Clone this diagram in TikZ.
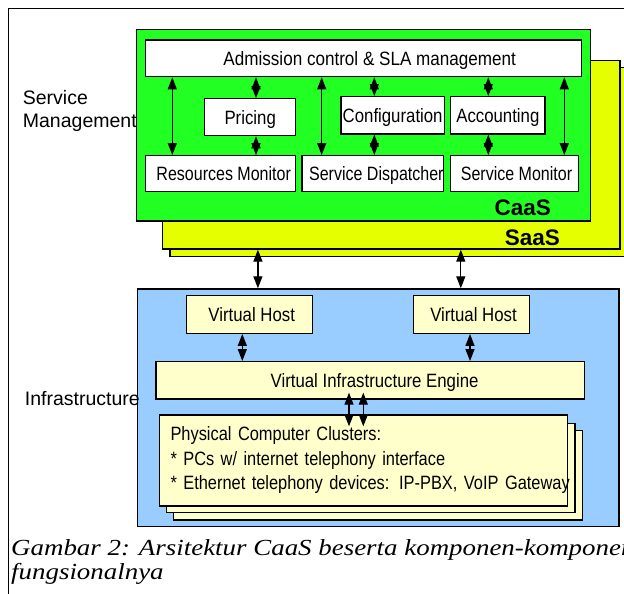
\documentclass[tikz,border=0pt]{standalone}
\usepackage{fontspec}
\setmainfont{Liberation Sans}
\newfontfamily\nfa[FakeStretch=0.83]{Liberation Sans}
\newfontfamily\nfb[FakeStretch=0.87]{Liberation Sans}
\newfontfamily\nfc[FakeStretch=0.885]{Liberation Sans}
\newfontfamily\nfd[FakeStretch=0.85]{Liberation Sans}
\newfontfamily\capfont[FakeStretch=1.17]{Liberation Serif}
\usetikzlibrary{arrows.meta}
\definecolor{caasgreen}{RGB}{34,255,34}
\definecolor{saasyellow}{RGB}{230,255,0}
\definecolor{infrablue}{RGB}{153,204,255}
\definecolor{paleyellow}{RGB}{255,255,204}
\begin{document}
\begin{tikzpicture}[x=1pt,y=-1pt,
  layer/.style={draw=black, line width=1.4pt, inner sep=0pt},
  box/.style={draw=black, line width=1.3pt, fill=white, inner sep=0pt,
    text height=13.8pt, text depth=0pt},
  ybox/.style={box, fill=paleyellow},
  fa/.style={font=\nfa\fontsize{19.3}{23}\selectfont},
  fb/.style={font=\nfb\fontsize{19.3}{23}\selectfont},
  side/.style={font=\fontsize{19.5}{24}\selectfont, align=left, inner sep=0pt},
  tag/.style={font=\bfseries\fontsize{22.5}{26}\selectfont, inner sep=0pt},
  dbl/.style={line width=1.3pt,
    {Triangle[length=12pt,width=9pt]}-{Triangle[length=12pt,width=9pt]}}
]
\useasboundingbox (0,0) rectangle (624,594);
\fill[white] (0,0) rectangle (624,594);
% outer frame
\draw[line width=0.8pt] (8.5,700) |- (700,8);

% service management layers
\node[layer, fill=saasyellow, minimum width=460pt, minimum height=189pt] (saasback) at (400,162.2) {};
\node[layer, fill=saasyellow, minimum width=457.3pt, minimum height=188.3pt] (saas) at (391.35,154.85) {};
\node[layer, fill=caasgreen, minimum width=453.6pt, minimum height=191.7pt] (caas) at (363.5,125.15) {};

\node[box, minimum width=436pt, minimum height=36.7pt, font=\nfc\fontsize{19.3}{23}\selectfont] (adm) at (363.7,58.35) {\hspace*{12pt}Admission control \& SLA management};
\node[box, fb, minimum width=91pt, minimum height=37pt] (pri) at (250.2,117.2) {Pricing};
\node[box, fb, minimum width=103.3pt, minimum height=37.3pt] (conf) at (392.65,115.35) {Configuration};
\node[box, fb, minimum width=94.3pt, minimum height=37.3pt] (acc) at (497.85,115.35) {Accounting};
\node[box, fa, minimum width=150pt, minimum height=36pt] (rm) at (220.7,173.7) {\hspace*{6pt}Resources Monitor};
\node[box, fa, minimum width=141.7pt, minimum height=36pt] (sd) at (372.85,173.7) {\hspace*{7pt}Service Dispatcher};
\node[box, fa, minimum width=127.6pt, minimum height=36pt] (sm) at (514.5,173.7) {\hspace*{4pt}Service Monitor};

\node[tag, anchor=base east] (caaslbl) at (551,215.3) {CaaS};
\node[tag, anchor=base east] (saaslbl) at (560,245) {SaaS};

% infrastructure
\node[layer, fill=infrablue, minimum width=481.5pt, minimum height=237.7pt] (infra) at (378.05,407.85) {};
\node[ybox, fb, minimum width=126pt, minimum height=37.6pt] (vh1) at (249.7,314.5) {\hspace*{4pt}Virtual Host};
\node[ybox, fb, minimum width=115.4pt, minimum height=37.6pt] (vh2) at (471.5,314.5) {\hspace*{4pt}Virtual Host};
\node[ybox, fb, minimum width=428.2pt, minimum height=37.3pt] (vie) at (370.1,380.35) {\hspace*{9pt}Virtual Infrastructure Engine};
\node[ybox, minimum width=409pt, minimum height=89.3pt] (cl3) at (377.8,475.35) {};
\node[ybox, minimum width=408.3pt, minimum height=89.4pt] (cl2) at (370.85,468) {};
\node[ybox, minimum width=408pt, minimum height=91pt, text height=, text depth=,
  font=\nfd\fontsize{19.3}{24.5}\selectfont, text width=386pt, align=left, inner xsep=11pt] (cl1) at (363.5,460.5)
  {Physical Computer Clusters:\\{}%
   * PCs w/ internet telephony interface\\{}%
   \mbox{* Ethernet telephony devices: IP-PBX, VoIP Gateway}};

% side labels (base anchor = last line)
\node[side, anchor=base west] (smlbl) at (22.7,128) {Service\\Management};
\node[side, anchor=base west] (inlbl) at (24.7,405.7) {Infrastructure};

% caption
\node[anchor=base west, align=left, inner sep=0pt,
  font=\capfont\itshape\fontsize{23}{24.3}\selectfont] (cap) at (11,579.3)
  {Gambar 2: Arsitektur CaaS beserta komponen-komponen\\fungsionalnya};

% arrow columns
\coordinate (xa) at (172.3,0);
\coordinate (xb) at (256,0);
\coordinate (xc) at (321.7,0);
\coordinate (xd) at (374.3,0);
\coordinate (xe) at (488.3,0);
\coordinate (xf) at (564.3,0);
\coordinate (xg) at (257.9,0);
\coordinate (xh) at (460.8,0);
\coordinate (xi) at (242.3,0);
\coordinate (xj) at (470,0);
\coordinate (xk) at (349,0);
\coordinate (xl) at (363.3,0);

\draw[dbl] (adm.south -| xa) -- (rm.north -| xa);
\draw[dbl] (adm.south -| xb) -- (pri.north -| xb);
\draw[dbl] (pri.south -| xb) -- (rm.north -| xb);
\draw[dbl] (adm.south -| xc) -- (sd.north -| xc);
\draw[dbl] (adm.south -| xd) -- (conf.north -| xd);
\draw[dbl] (conf.south -| xd) -- (sd.north -| xd);
\draw[dbl] (adm.south -| xe) -- (acc.north -| xe);
\draw[dbl] (acc.south -| xe) -- (sm.north -| xe);
\draw[dbl] (adm.south -| xf) -- (sm.north -| xf);

\draw[dbl] (saas.south -| xg) -- (infra.north -| xg);
\draw[dbl] (saas.south -| xh) -- (infra.north -| xh);

\draw[dbl] (vh1.south -| xi) -- (vie.north -| xi);
\draw[dbl] (vh2.south -| xj) -- (vie.north -| xj);
\draw[dbl, shorten <=-7pt, shorten >=-12pt] (vie.south -| xk) -- (cl1.north -| xk);
\draw[dbl, shorten <=-7pt, shorten >=-12pt] (vie.south -| xl) -- (cl1.north -| xl);
\end{tikzpicture}
\end{document}
